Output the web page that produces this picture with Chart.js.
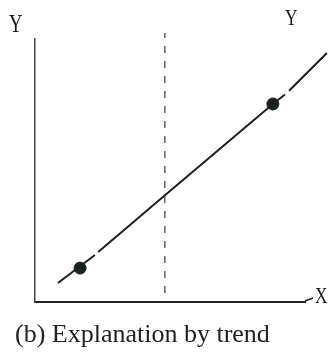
<!DOCTYPE html>
<html>
<head>
<meta charset="utf-8">
<script src="https://cdn.jsdelivr.net/npm/chart.js@4"></script>
<style>
  html, body { margin: 0; padding: 0; background: #fff; }
  #wrap { width: 335px; height: 354px; }
</style>
</head>
<body>
<div id="wrap"><canvas id="chart" width="335" height="354"></canvas></div>
<script>
// Trend line through the observations (x, y in plot units 0..100);
// null marks the small breaks in the pen stroke
const trendX = [8.5, 22.2, null, 23.4, 47.8, 88.1, 92.6, null, 94.1, 108.1];
const trendY = [7.2, 17.9, null, 19.0, 40.3, 75.3, 78.9, null, 80.3, 94.7];

// Observed points
const pointX = [16.7, 88.1];
const pointY = [12.9, 75.3];

// Dashed divider
const dividerX = [48.1, 48.1];
const dividerY = [3.4, 102.3];

// Labels
const axisLabelY = 'Y';
const lineLabel = 'Y';
const axisLabelX = 'X';
const caption = '(b) Explanation by trend';

const toXY = (xs, ys) => xs.map((x, i) => ({ x: x, y: ys[i] }));

// Axis letters and caption, drawn on top of the chart
const textPlugin = {
  id: 'figureText',
  afterDraw(chart) {
    const ctx = chart.ctx;
    const area = chart.chartArea;
    ctx.save();
    ctx.fillStyle = '#1a1a1a';
    ctx.textBaseline = 'alphabetic';

    // narrow, tall letters like the printed figure
    const letter = (txt, x, y, size) => {
      ctx.save();
      ctx.translate(x, y);
      ctx.scale(0.72, 1);
      ctx.font = size + 'px "Liberation Serif"';
      ctx.fillText(txt, 0, 0);
      ctx.restore();
    };
    letter(axisLabelY, 9, 32, 26);
    letter(lineLabel, 285, 25, 24);
    letter(axisLabelX, 315, 303, 24);

    // little tick joining the axis to the X
    ctx.strokeStyle = '#222';
    ctx.lineWidth = 1.5;
    ctx.beginPath();
    ctx.moveTo(area.right, area.bottom - 1);
    ctx.lineTo(area.right + 8, area.bottom - 4);
    ctx.stroke();

    ctx.font = '26px "Liberation Serif"';
    ctx.fillStyle = '#222';
    ctx.fillText(caption, 15, 342);
    ctx.restore();
  }
};

new Chart(document.getElementById('chart'), {
  type: 'scatter',
  data: {
    datasets: [
      {
        type: 'line',
        data: toXY(dividerX, dividerY),
        borderColor: '#3a3a3a',
        borderWidth: 1.2,
        borderDash: [7, 8],
        pointRadius: 0,
        clip: false
      },
      {
        type: 'line',
        data: toXY(trendX, trendY),
        borderColor: '#1e1e1e',
        borderWidth: 2,
        pointRadius: 0,
        spanGaps: false,
        clip: false
      },
      {
        data: toXY(pointX, pointY),
        backgroundColor: '#1b231d',
        borderColor: '#1b231d',
        pointRadius: 6,
        clip: false
      }
    ]
  },
  options: {
    responsive: false,
    animation: false,
    layout: { padding: { left: 35, top: 39, right: 30, bottom: 52 } },
    plugins: { legend: { display: false }, tooltip: { enabled: false } },
    scales: {
      x: {
        type: 'linear', min: 0, max: 100,
        grid: { display: false, drawTicks: false },
        ticks: { display: false },
        border: { display: true, color: '#222', width: 2 }
      },
      y: {
        type: 'linear', min: 0, max: 100,
        grid: { display: false, drawTicks: false },
        ticks: { display: false },
        border: { display: true, color: '#444', width: 1.5 }
      }
    }
  },
  plugins: [textPlugin]
});
</script>
</body>
</html>
